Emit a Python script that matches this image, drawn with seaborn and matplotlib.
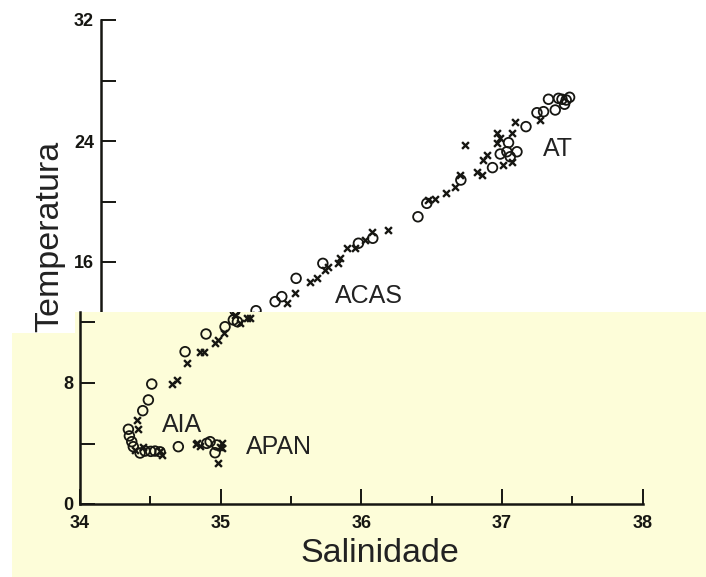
import numpy as np
import pandas as pd
import seaborn as sns
import matplotlib
matplotlib.use("Agg")
import matplotlib.pyplot as plt
from matplotlib.patches import Polygon
from matplotlib.ticker import MultipleLocator, FixedLocator

# ---------------- data ----------------
circle_sal = [34.344, 34.351, 34.368, 34.379, 34.427, 34.462, 34.503, 34.533, 34.569,
              34.446, 34.486, 34.510, 34.699, 34.747, 34.896, 34.901, 34.925, 34.972,
              34.960, 35.031, 35.090, 35.119,
              35.102, 35.238, 35.285, 35.387, 35.577, 35.830, 35.932, 36.253, 36.316,
              36.558, 36.783, 36.838, 36.885, 36.897, 36.957, 36.909, 37.021, 37.099,
              37.146, 37.229, 37.181, 37.252, 37.277, 37.307, 37.331, 37.295]
circle_temp = [4.94, 4.50, 4.12, 3.79, 3.37, 3.50, 3.48, 3.50, 3.45,
               6.17, 6.88, 7.93, 3.79, 10.07, 11.24, 4.01, 4.12, 3.90,
               3.39, 11.72, 12.17, 12.05,
               12.78, 13.38, 13.71, 14.92, 15.91, 17.24, 17.57, 18.99, 19.88,
               21.42, 22.24, 23.14, 23.29, 23.89, 23.29, 22.96, 24.95, 25.87,
               25.94, 26.05, 26.76, 26.82, 26.76, 26.71, 26.89, 26.43]

cross_sal = [34.403, 34.415, 34.391, 34.450, 34.569, 34.581, 34.652, 34.688, 34.759,
             34.823, 34.832, 34.853, 34.853, 34.882, 34.960, 34.984, 34.996, 35.008,
             35.010, 34.984, 35.024, 35.102, 35.138, 35.186, 35.209,
             35.321, 35.380, 35.486, 35.534, 35.593, 35.617, 35.688, 35.700, 35.748,
             35.807, 35.878, 35.925, 36.043, 36.328, 36.376, 36.454, 36.518, 36.553,
             36.672, 36.708, 36.719, 36.743, 36.589, 36.814, 36.814, 36.838, 36.861,
             36.921, 36.921, 36.944, 37.122]
cross_temp = [5.55, 4.94, 3.57, 3.79, 3.52, 3.24, 7.93, 8.20, 9.32,
              3.95, 4.03, 3.83, 10.05, 10.05, 10.66, 10.84, 3.79, 3.68,
              4.03, 2.73, 11.29, 12.50, 11.95, 12.28, 12.28,
              13.27, 13.93, 14.70, 14.92, 15.47, 15.69, 15.91, 16.24, 16.91,
              16.91, 17.45, 18.00, 18.12, 20.10, 20.15, 20.54, 20.98, 21.75,
              21.97, 21.75, 22.74, 23.07, 23.74, 24.51, 23.85, 24.20, 22.41,
              22.63, 24.51, 25.28, 25.39]

x_ticks = [34, 35, 36, 37, 38]
y_label_ticks = [0, 8, 16, 24, 32]

water_masses = ["AT", "ACAS", "AIA", "APAN"]
wm_sal = [37.25, 35.906, 34.725, 35.415]
wm_temp = [23.47, 13.75, 5.22, 3.77]
# --------------------------------------------------------------

sns.set_style("white")
plt.rcParams["font.family"] = ["Liberation Sans", "DejaVu Sans"]

W, H = 706, 577
fig = plt.figure(figsize=(W / 100, H / 100), dpi=100)
fig.patch.set_facecolor("white")

ink = "#161612"
circles = pd.DataFrame({"sal": circle_sal, "temp": circle_temp})
crosses = pd.DataFrame({"sal": cross_sal, "temp": cross_temp})


def px_box(x0, x1, y_top, y_bot):
    return [x0 / W, 1 - y_bot / H, (x1 - x0) / W, (y_bot - y_top) / H]


def draw_points(ax):
    sns.scatterplot(data=circles, x="sal", y="temp", ax=ax, marker="o", s=48,
                    facecolor="none", edgecolor=ink, linewidth=1.3, legend=False)
    sns.scatterplot(data=crosses, x="sal", y="temp", ax=ax, marker="x", s=24,
                    color=ink, linewidth=1.7, legend=False)


tick_font = dict(fontsize=13, fontweight="bold")

# ---- upper (white) part of the scan ----
ax_top = fig.add_axes(px_box(101, 663.7, 20, 352.75), zorder=0)
ax_top.set_facecolor("none")
draw_points(ax_top)
ax_top.set_xlim(34, 38)
ax_top.set_ylim(10, 32)
for s in ["top", "right", "bottom"]:
    ax_top.spines[s].set_visible(False)
ax_top.spines["left"].set_linewidth(1.8)
ax_top.spines["left"].set_color(ink)
ax_top.set_xticks([])
ax_top.yaxis.set_major_locator(FixedLocator([12, 16, 20, 24, 28, 32]))
ax_top.set_yticklabels(["", "16", "", "24", "", "32"], **tick_font)
ax_top.tick_params(axis="y", direction="in", length=11, width=1.4, pad=5,
                   colors=ink, left=True)
ax_top.set_xlabel("")
ax_top.set_ylabel("")
for name, sx, ty in zip(water_masses[:2], wm_sal[:2], wm_temp[:2]):
    ax_top.text(sx, ty, name, fontsize=18, color="#222222", ha="center", va="center")

fig.text(50 / W, 1 - 236 / H, "Temperatura", rotation=90, fontsize=24.5,
         color="#222222", ha="center", va="center", zorder=0.5)

# ---- yellow pasted part ----
poly = [(12, 577), (12, 333), (75, 333), (75, 312), (706, 312), (706, 577)]
yellow = Polygon([(x / W, 1 - y / H) for x, y in poly], closed=True,
                 transform=fig.transFigure, facecolor="#FDFDD9", edgecolor="none",
                 zorder=1)
fig.patches.append(yellow)

ax_low = fig.add_axes(px_box(80, 642.7, 312, 504), zorder=2)
ax_low.set_facecolor("none")
draw_points(ax_low)
ax_low.set_xlim(34, 38)
ax_low.set_ylim(0, (504 - 312) / 15.125)
for s in ["top", "right"]:
    ax_low.spines[s].set_visible(False)
for s in ["left", "bottom"]:
    ax_low.spines[s].set_linewidth(1.8)
    ax_low.spines[s].set_color(ink)
ax_low.set_xticks(x_ticks)
ax_low.set_xticklabels([str(v) for v in x_ticks], **tick_font)
ax_low.xaxis.set_minor_locator(MultipleLocator(0.5))
ax_low.yaxis.set_major_locator(FixedLocator([0, 4, 8, 12]))
ax_low.set_yticklabels(["0", "", "8", ""], **tick_font)
ax_low.tick_params(axis="both", which="major", direction="in", length=11, width=1.4,
                   colors=ink, left=True, bottom=True)
ax_low.tick_params(axis="x", which="major", pad=8)
ax_low.tick_params(axis="y", which="major", pad=5)
ax_low.tick_params(axis="x", which="minor", direction="in", length=6, width=1.4,
                   colors=ink, bottom=True)
ax_low.set_xlabel("")
ax_low.set_ylabel("")
for name, sx, ty in zip(water_masses[2:], wm_sal[2:], wm_temp[2:]):
    ax_low.text(sx, ty, name, fontsize=18, color="#222222", ha="center", va="center")

fig.text(380 / W, 1 - 553 / H, "Salinidade", fontsize=24.5, color="#222222",
         ha="center", va="center", zorder=3)

fig.savefig("out.png", dpi=100)
